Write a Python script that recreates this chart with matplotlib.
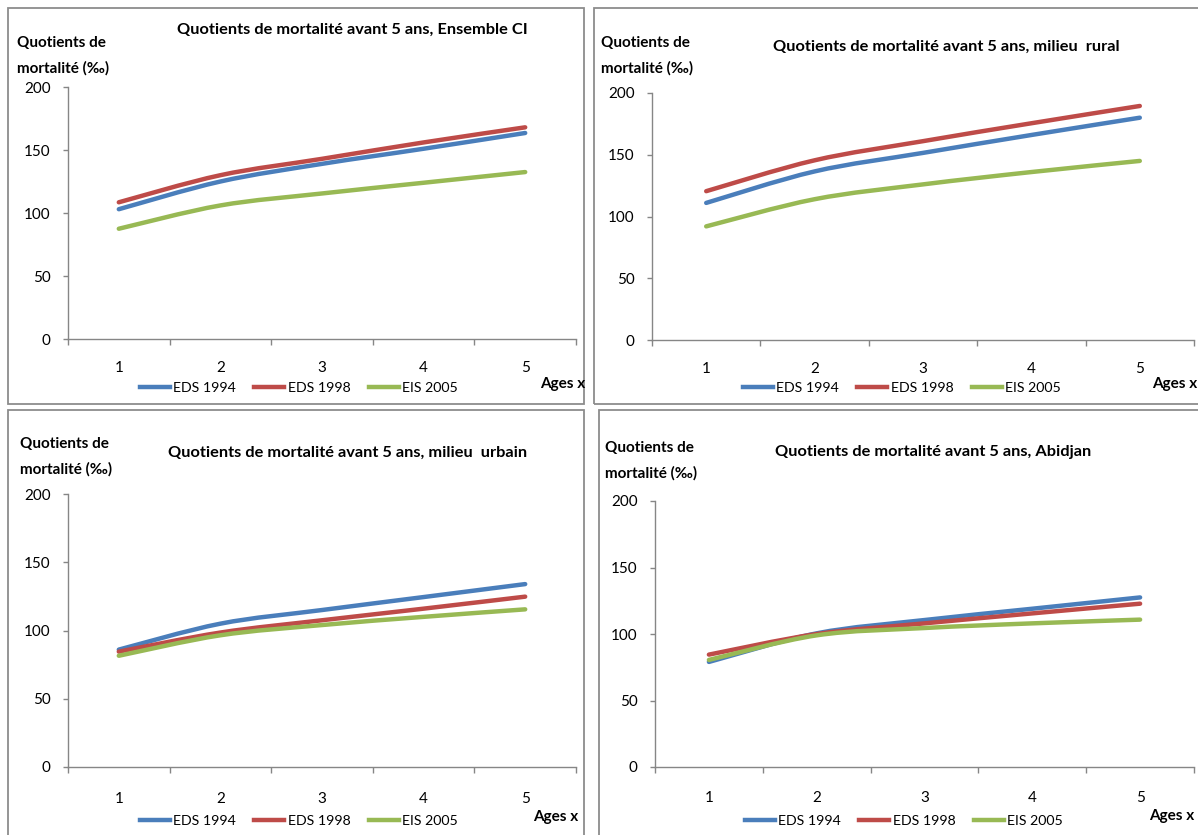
import numpy as np
import matplotlib
matplotlib.use("Agg")
import matplotlib.pyplot as plt
from matplotlib.path import Path
from matplotlib.patches import PathPatch, Rectangle
from matplotlib.lines import Line2D

W, H = 1198, 835

ages = [1, 2, 3, 4, 5]
series = ["EDS 1994", "EDS 1998", "EIS 2005"]
colors = ["#4A7EBB", "#BE4B48", "#98B954"]

ensemble_1994 = [103, 125, 139, 151, 163.5]
ensemble_1998 = [108.5, 130, 143, 156, 168]
ensemble_2005 = [87.5, 106, 115.5, 124, 132.5]

rural_1994 = [111, 136.5, 151.5, 166, 180]
rural_1998 = [120.5, 145.5, 161, 175.5, 189.5]
rural_2005 = [92, 114, 126, 136, 145]

urbain_1994 = [86, 105, 115, 124.5, 134]
urbain_1998 = [84.5, 98.5, 107.5, 116, 124.8]
urbain_2005 = [81.5, 96.5, 104, 110, 115.5]

abidjan_1994 = [79, 100.5, 110.5, 119, 127.5]
abidjan_1998 = [84.5, 100, 108, 115.5, 122.8]
abidjan_2005 = [80.5, 99, 104.5, 108, 110.8]

titles = ["Quotients de mortalité avant 5 ans, Ensemble CI",
          "Quotients de mortalité avant 5 ans, milieu  rural",
          "Quotients de mortalité avant 5 ans, milieu  urbain",
          "Quotients de mortalité avant 5 ans, Abidjan"]

FONT = ["Lato", "DejaVu Sans"]
AXCOL = "#868686"

# panel layout in pixels
panels = [
    dict(box=(7.5, 8, 584, 404), ax=(68, 87, 576, 339), title=(352, 30), ylab=(17, 43),
         leg=(299, 388), agesx=(585, 384), xpad=15.5, data=(ensemble_1994, ensemble_1998, ensemble_2005)),
    dict(box=(594, 7.5, 1203, 404), ax=(652, 93, 1194, 340), title=(946, 47), ylab=(601, 43),
         leg=(902, 388), agesx=(1197, 384), xpad=15.5, data=(rural_1994, rural_1998, rural_2005)),
    dict(box=(7.5, 410, 584, 840), ax=(68, 494, 576, 767), title=(348, 453), ylab=(20, 444),
         leg=(299, 821), agesx=(578, 817), xpad=18, data=(urbain_1994, urbain_1998, urbain_2005)),
    dict(box=(599, 410, 1203, 840), ax=(655, 501, 1194, 767), title=(933, 452), ylab=(605, 448),
         leg=(904, 821), agesx=(1194, 816), xpad=17, data=(abidjan_1994, abidjan_1998, abidjan_2005)),
]


def smooth_path(x, y):
    # Excel-style smoothed line: Catmull-Rom segments as cubic Bezier curves
    pts = np.column_stack([x, y]).astype(float)
    ext = np.vstack([pts[0], pts, pts[-1]])
    verts = [pts[0]]
    codes = [Path.MOVETO]
    for i in range(1, len(ext) - 2):
        p0, p1, p2, p3 = ext[i - 1], ext[i], ext[i + 1], ext[i + 2]
        verts += [p1 + (p2 - p0) / 6, p2 - (p3 - p1) / 6, p2]
        codes += [Path.CURVE4] * 3
    return Path(verts, codes)


fig = plt.figure(figsize=(W / 100, H / 100), dpi=100)


def fx(px):
    return px / W


def fy(py):
    return 1 - py / H


for i, p in enumerate(panels):
    x0, y0, x1, y1 = p["box"]
    fig.patches.append(Rectangle((fx(x0), fy(y1)), fx(x1 - x0), (y1 - y0) / H,
                                 transform=fig.transFigure, fill=False,
                                 edgecolor="#8C8C8C", linewidth=1.3))
    l, t, r, b = p["ax"]
    ax = fig.add_axes([fx(l), fy(b), fx(r - l), (b - t) / H])
    ax.set_xlim(0.5, 5.5)
    ax.set_ylim(0, 200)
    for vals, c in zip(p["data"], colors):
        ax.add_patch(PathPatch(smooth_path(ages, vals), fill=False, edgecolor=c,
                               linewidth=3.2, capstyle="round", joinstyle="round"))
    for s in ["top", "right"]:
        ax.spines[s].set_visible(False)
    for s in ["left", "bottom"]:
        ax.spines[s].set_color(AXCOL)
        ax.spines[s].set_linewidth(1.0)
    ax.set_yticks([0, 50, 100, 150, 200])
    ax.set_xticks(ages)
    ax.set_xticks(np.arange(0.5, 6, 1), minor=True)
    ax.tick_params(axis="y", length=3.5, width=1, color=AXCOL, pad=9, labelsize=11)
    ax.tick_params(axis="x", which="major", length=0, pad=p["xpad"], labelsize=11)
    ax.tick_params(axis="x", which="minor", length=4.5, width=1, color=AXCOL, direction="out")
    for lab in ax.get_xticklabels() + ax.get_yticklabels():
        lab.set_family(FONT)
    ax.patch.set_alpha(0)

    tx, ty = p["title"]
    fig.text(fx(tx), fy(ty), titles[i], ha="center", va="center", fontsize=11.8,
             fontweight="bold", family=FONT)
    lx, ly = p["ylab"]
    fig.text(fx(lx), fy(ly), "Quotients de", ha="left", va="center", fontsize=11,
             fontweight="bold", family=FONT)
    fig.text(fx(lx), fy(ly + 25), "mortalité (‰)", ha="left", va="center", fontsize=11,
             fontweight="bold", family=FONT)
    axx, axy = p["agesx"]
    fig.text(fx(axx), fy(axy), "Ages x", ha="right", va="center", fontsize=11,
             fontweight="bold", family=FONT)

    handles = [Line2D([], [], color=c, linewidth=3.2) for c in colors]
    gx, gy = p["leg"]
    ax.legend(handles, series, loc="center", bbox_to_anchor=(fx(gx), fy(gy)),
              bbox_transform=fig.transFigure, ncol=3, frameon=False,
              prop={"family": FONT, "size": 10.2}, handlelength=2.1,
              handletextpad=0.25, columnspacing=1.3, borderpad=0)

fig.savefig("out.png", dpi=100)
